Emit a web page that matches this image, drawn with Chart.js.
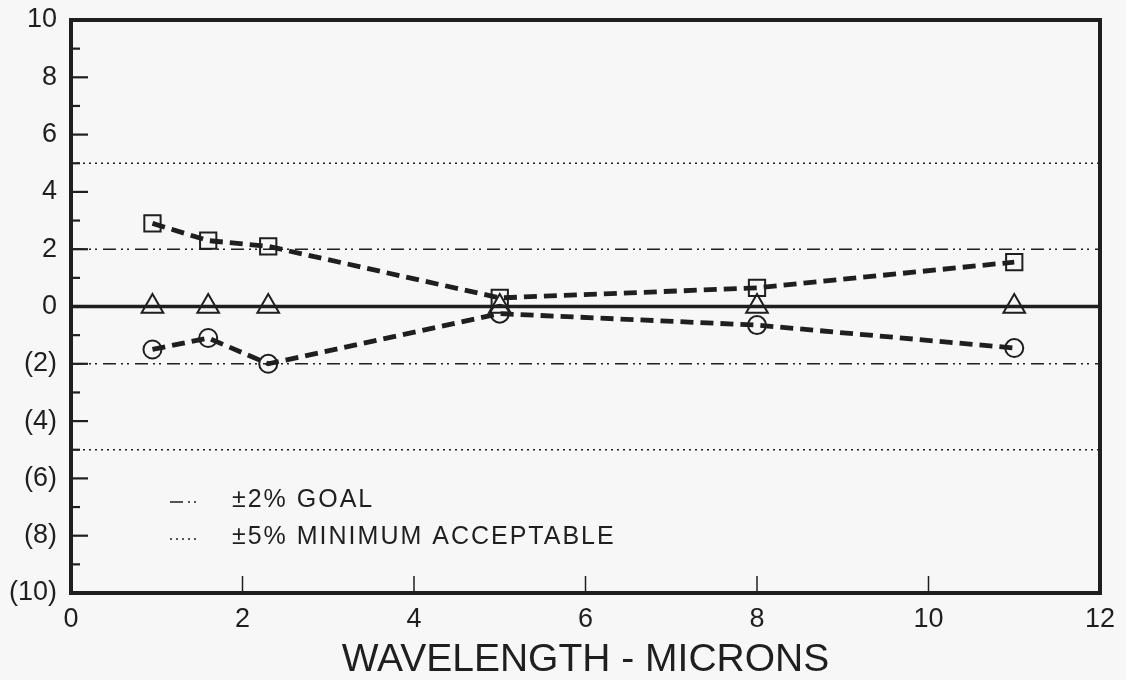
<!DOCTYPE html>
<html>
<head>
<meta charset="utf-8">
<title>Wavelength error</title>
<script src="https://cdn.jsdelivr.net/npm/chart.js@4/dist/chart.umd.min.js"></script>
<style>
  html, body { margin: 0; padding: 0; background: #f7f7f7; }
  #wrap { width: 1126px; height: 680px; }
</style>
</head>
<body>
<div id="wrap"><canvas id="c" width="1126" height="680"></canvas></div>
<script>
// Measurement wavelengths (microns) and percent error per series
const wavelengths = [0.95, 1.6, 2.3, 5, 8, 11];
const squareErr   = [2.9, 2.3, 2.1, 0.3, 0.65, 1.55];
const circleErr   = [-1.5, -1.1, -2.0, -0.25, -0.65, -1.45];
const triangleErr = [0, 0, 0, 0, 0, 0];

// Reference levels
const goalLevels    = [2, -2];
const minimumLevels = [5, -5];
const zeroLevel     = [0];

// Axis ranges and ticks
const xRange = [0, 12];
const yRange = [-10, 10];
const xMajorTicks = [2, 4, 6, 8, 10];
const yMajorTicks = [-8, -6, -4, -2, 0, 2, 4, 6, 8];
const yMinorTicks = [-9, -7, -5, -3, -1, 1, 3, 5, 7, 9];

// Legend entries
const legendLabels = ['\u00b12% GOAL', '\u00b15% MINIMUM ACCEPTABLE'];

const INK = '#1f1f1f';
const FONT = '"Liberation Sans", Arial, Helvetica, sans-serif';
const GOAL_DASH = [13, 5, 2, 4, 2, 6];
const MIN_DASH = [2, 4];

const pts = (ys) => wavelengths.map((x, i) => ({ x, y: ys[i] }));
const level = (v) => [{ x: xRange[0], y: v }, { x: xRange[1], y: v }];

const datasets = [];
minimumLevels.forEach(v => datasets.push({
  data: level(v), borderColor: INK, borderWidth: 1.6, borderDash: MIN_DASH,
  pointRadius: 0, showLine: true, order: 5
}));
goalLevels.forEach(v => datasets.push({
  data: level(v), borderColor: INK, borderWidth: 1.6, borderDash: GOAL_DASH,
  pointRadius: 0, showLine: true, order: 5
}));
zeroLevel.forEach(v => datasets.push({
  data: level(v), borderColor: INK, borderWidth: 3.5,
  pointRadius: 0, showLine: true, order: 4
}));
datasets.push({
  data: pts(squareErr), showLine: true, borderColor: INK, borderWidth: 4.8,
  borderDash: [13, 7], pointStyle: 'rect', pointRadius: 11.5,
  pointBorderWidth: 2, pointBorderColor: INK, pointBackgroundColor: 'rgba(0,0,0,0)', order: 1
});
datasets.push({
  data: pts(circleErr), showLine: true, borderColor: INK, borderWidth: 4.8,
  borderDash: [13, 7], pointStyle: 'circle', pointRadius: 9,
  pointBorderWidth: 2, pointBorderColor: INK, pointBackgroundColor: 'rgba(0,0,0,0)', order: 1
});
datasets.push({
  data: pts(triangleErr), showLine: false, pointStyle: 'triangle', pointRadius: 12.5,
  pointBorderWidth: 2, pointBorderColor: INK, pointBackgroundColor: 'rgba(0,0,0,0)', order: 1
});

// Frame, inward tick marks and the legend drawn on top of the chart area
const decorations = {
  id: 'decorations',
  beforeDraw(chart) {
    const ctx = chart.ctx;
    ctx.save();
    ctx.fillStyle = '#f7f7f7';
    ctx.fillRect(0, 0, chart.width, chart.height);
    ctx.restore();
  },
  afterDraw(chart) {
    const ctx = chart.ctx;
    const a = chart.chartArea;
    const xs = chart.scales.x, ys = chart.scales.y;
    ctx.save();
    ctx.strokeStyle = INK;
    ctx.lineCap = 'butt';

    // y tick marks pointing into the plot
    ctx.lineWidth = 2.2;
    yMajorTicks.forEach(v => {
      const y = ys.getPixelForValue(v);
      ctx.beginPath(); ctx.moveTo(a.left, y); ctx.lineTo(a.left + 17, y); ctx.stroke();
    });
    yMinorTicks.forEach(v => {
      const y = ys.getPixelForValue(v);
      ctx.beginPath(); ctx.moveTo(a.left, y); ctx.lineTo(a.left + 9, y); ctx.stroke();
    });
    // x tick marks pointing up
    ctx.lineWidth = 1.5;
    xMajorTicks.forEach(v => {
      const x = xs.getPixelForValue(v);
      ctx.beginPath(); ctx.moveTo(x, a.bottom); ctx.lineTo(x, a.bottom - 17); ctx.stroke();
    });

    // plot frame
    ctx.lineWidth = 4;
    ctx.strokeRect(a.left, a.top, a.right - a.left, a.bottom - a.top);

    // legend
    const rows = [{ dash: GOAL_DASH, y: 502 }, { dash: MIN_DASH, y: 539 }];
    ctx.lineWidth = 1.6;
    rows.forEach((r, i) => {
      ctx.setLineDash(r.dash);
      ctx.beginPath(); ctx.moveTo(170, r.y); ctx.lineTo(200, r.y); ctx.stroke();
      ctx.setLineDash([]);
      ctx.fillStyle = INK;
      ctx.font = '25px ' + FONT;
      ctx.textBaseline = 'middle';
      ctx.textAlign = 'left';
      if ('letterSpacing' in ctx) ctx.letterSpacing = '2px';
      ctx.fillText(legendLabels[i], 232, r.y - 2);
    });
    ctx.restore();
  }
};

new Chart(document.getElementById('c'), {
  type: 'scatter',
  data: { datasets },
  options: {
    responsive: false,
    animation: false,
    layout: { padding: { top: 20, right: 26, left: 0, bottom: 0 } },
    plugins: { legend: { display: false }, tooltip: { enabled: false } },
    scales: {
      x: {
        type: 'linear', min: xRange[0], max: xRange[1],
        grid: { display: false, drawTicks: false },
        border: { display: false },
        ticks: { stepSize: 2, color: INK, font: { family: FONT, size: 27 }, padding: 10 },
        title: {
          display: true, text: 'WAVELENGTH - MICRONS', color: INK,
          font: { family: FONT, size: 39, lineHeight: 1.0 }, padding: { top: 0, bottom: 0 }
        },
        afterFit(scale) {
          scale.height = 87;
          scale.paddingLeft = 0; scale.paddingRight = 0;
        }
      },
      y: {
        type: 'linear', min: yRange[0], max: yRange[1],
        grid: { display: false, drawTicks: false },
        border: { display: false },
        ticks: {
          stepSize: 2, color: INK, font: { family: FONT, size: 27 }, padding: 14,
          callback: (v) => v < 0 ? '(' + Math.abs(v) + ')' : String(v)
        },
        afterFit(scale) {
          scale.width = 71;
          scale.paddingTop = 0; scale.paddingBottom = 0;
        }
      }
    }
  },
  plugins: [decorations]
});
</script>
</body>
</html>
